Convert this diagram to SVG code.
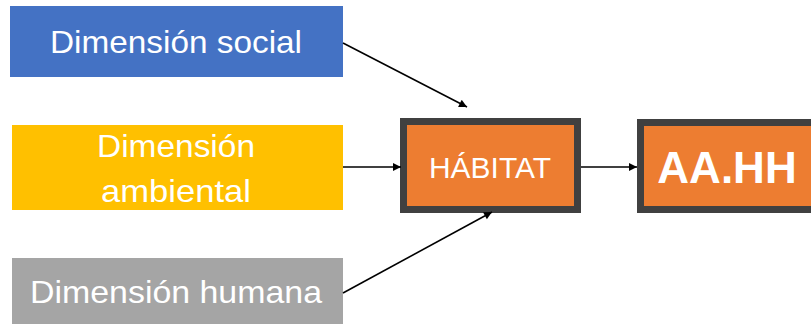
<svg xmlns="http://www.w3.org/2000/svg" width="811" height="324" viewBox="0 0 811 324">
  <style>
    .lbl { font-family: "Liberation Sans", Arial, sans-serif; fill: #ffffff; text-anchor: middle; }
    .dim { font-size: 32px; }
    .core { fill: #ED7D31; stroke: #404040; stroke-width: 7; }
    .link { stroke: #000000; stroke-width: 1.6; fill: none; marker-end: url(#arrow); }
  </style>
  <defs>
    <marker id="arrow" viewBox="0 0 10 10" refX="10" refY="5" markerWidth="9" markerHeight="8" markerUnits="userSpaceOnUse" orient="auto">
      <path d="M0,0 L10,5 L0,10 z" fill="#000000"/>
    </marker>
  </defs>

  <g id="social">
    <rect x="10" y="6" width="333" height="71" fill="#4472C4"/>
    <text class="lbl dim" x="176" y="53" textLength="252" lengthAdjust="spacingAndGlyphs">Dimensión social</text>
  </g>

  <g id="ambiental">
    <rect x="12" y="125" width="331" height="85" fill="#FFC000"/>
    <text class="lbl dim" x="176" y="157" textLength="158" lengthAdjust="spacingAndGlyphs">Dimensión</text>
    <text class="lbl dim" x="176" y="202" textLength="150" lengthAdjust="spacingAndGlyphs">ambiental</text>
  </g>

  <g id="humana">
    <rect x="12" y="258" width="331" height="70" fill="#A5A5A5"/>
    <text class="lbl dim" x="176" y="303" textLength="292" lengthAdjust="spacingAndGlyphs">Dimensión humana</text>
  </g>

  <g id="habitat">
    <rect class="core" x="403.5" y="121.5" width="174" height="88"/>
    <text class="lbl" x="490" y="178" font-size="29" textLength="122" lengthAdjust="spacingAndGlyphs">HÁBITAT</text>
  </g>

  <g id="aahh">
    <rect class="core" x="640.5" y="122.5" width="180" height="87"/>
    <text class="lbl" x="727" y="183" font-size="44" font-weight="bold">AA.HH</text>
  </g>

  <g id="connectors">
    <line class="link" x1="343" y1="43" x2="467" y2="107"/>
    <line class="link" x1="343" y1="167" x2="401" y2="167"/>
    <line class="link" x1="343" y1="293" x2="492" y2="212"/>
    <line class="link" x1="581" y1="167" x2="637" y2="167"/>
  </g>
</svg>
